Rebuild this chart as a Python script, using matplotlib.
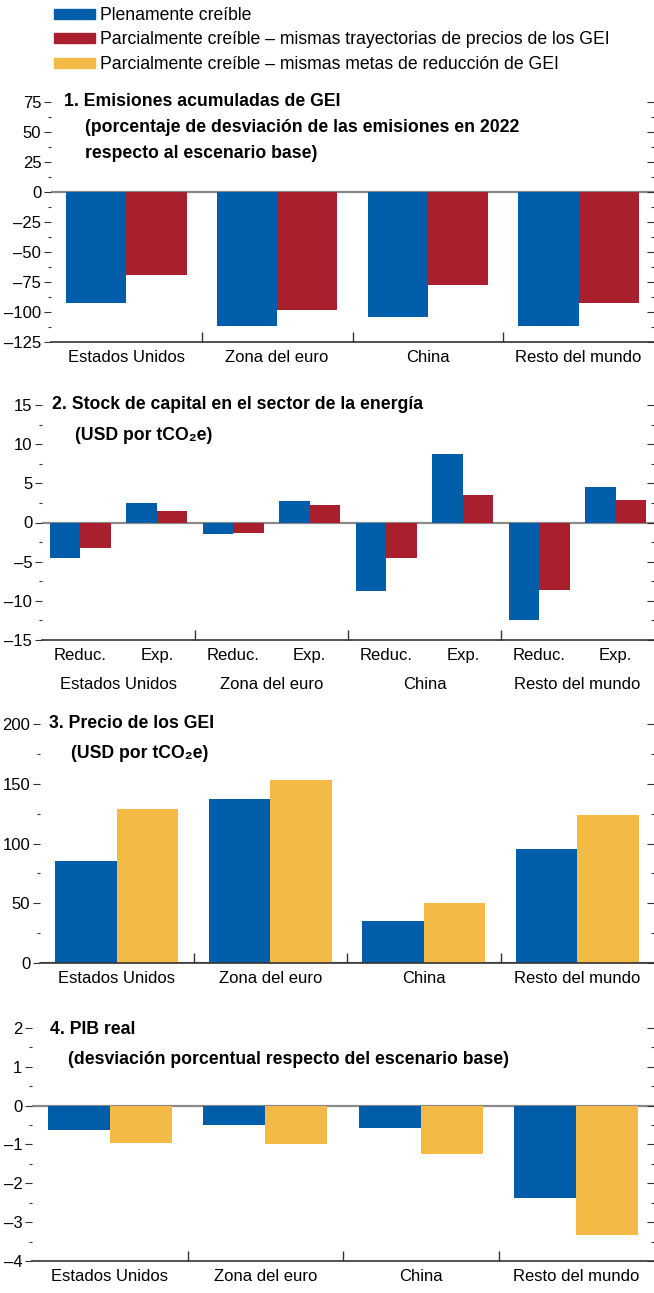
import numpy as np
import matplotlib.pyplot as plt
from matplotlib.patches import Patch
from matplotlib.ticker import MultipleLocator, FixedLocator, NullFormatter, FuncFormatter

plt.rcParams['font.family'] = ['Liberation Sans', 'DejaVu Sans']
plt.rcParams['font.size'] = 12

BLUE = '#005DAA'
RED = '#AA1F2E'
YELLOW = '#F3BA45'
FS = 12
FS_T = 12.7

series_names = ['Plenamente creíble',
                'Parcialmente creíble – mismas trayectorias de precios de los GEI',
                'Parcialmente creíble – mismas metas de reducción de GEI']
countries = ['Estados Unidos', 'Zona del euro', 'China', 'Resto del mundo']
sub_labels = ['Reduc.', 'Exp.']

# panel 1: cumulative emissions
emis_full = [-92.3, -111.6, -104.0, -111.6]
emis_price = [-68.8, -98.2, -77.2, -92.3]
# panel 2: capital stock (Reduc., Exp. per country)
cap_full = [-4.5, 2.5, -1.5, 2.7, -8.7, 8.8, -12.4, 4.5]
cap_price = [-3.2, 1.5, -1.4, 2.2, -4.5, 3.5, -8.6, 2.9]
# panel 3: GHG price
price_full = [85.0, 137.1, 35.5, 95.1]
price_target = [128.7, 153.0, 50.6, 123.6]
# panel 4: real GDP
gdp_full = [-0.63, -0.51, -0.58, -2.39]
gdp_target = [-0.96, -0.99, -1.24, -3.34]

H = 1293.0
W = 654.0
fig = plt.figure(figsize=(6.54, 12.93), dpi=100)

dash_fmt = FuncFormatter(lambda v, p: ('%g' % v).replace('-', '–'))


def make_ax(left_px, top_px, bottom_px):
    return fig.add_axes([left_px / W, 1 - bottom_px / H, 1 - left_px / W, (bottom_px - top_px) / H])


def style(ax, ylim, major, ngroups, sub=1):
    ax.set_ylim(*ylim)
    ax.set_xlim(-0.5, ngroups * sub - 0.5)
    for s in ['left', 'right', 'top']:
        ax.spines[s].set_visible(False)
    ax.spines['bottom'].set_color('#333333')
    ax.spines['bottom'].set_linewidth(1.2)
    ax.axhline(0, color='#8a8a8a', lw=1.6, zorder=1)
    ax.yaxis.set_major_locator(MultipleLocator(major))
    ax.yaxis.set_minor_locator(MultipleLocator(major / 2))
    ax.yaxis.set_major_formatter(dash_fmt)
    ax.tick_params(axis='y', which='major', direction='out', length=5, width=0.8, pad=2,
                   color='#333333', labelsize=FS)
    ax.tick_params(axis='y', which='minor', direction='out', length=2, width=0.8, color='#333333')
    # group dividers
    div = [(g + 1) * sub - 0.5 for g in range(ngroups - 1)]
    ax.xaxis.set_major_locator(FixedLocator(div))
    ax.xaxis.set_major_formatter(NullFormatter())
    ax.tick_params(axis='x', which='major', direction='in', length=7, width=1, color='#333333')
    # right-hand ticks
    ax2 = ax.twinx()
    ax2.set_ylim(*ylim)
    for s in ['left', 'right', 'top', 'bottom']:
        ax2.spines[s].set_visible(False)
    ax2.yaxis.set_major_locator(MultipleLocator(major))
    ax2.yaxis.set_minor_locator(MultipleLocator(major / 2))
    ax2.tick_params(axis='y', which='major', direction='in', length=5, width=0.8, labelright=False, color='#333333')
    ax2.tick_params(axis='y', which='minor', direction='in', length=2, width=0.8, color='#333333')


def group_labels(ax, labels, pad=3):
    x = np.arange(len(labels))
    ax.xaxis.set_minor_locator(FixedLocator(x))
    ax.set_xticklabels(labels, minor=True)
    ax.tick_params(axis='x', which='minor', length=0, pad=pad, labelsize=FS)


def title(x_px, y_px, lines, indent_px, step_px):
    fig.text(x_px / W, 1 - y_px / H, lines[0], fontweight='bold', va='center', ha='left', fontsize=FS_T)
    for k, ln in enumerate(lines[1:]):
        fig.text((x_px + indent_px) / W, 1 - (y_px + step_px * (k + 1)) / H, ln,
                 fontweight='bold', va='center', ha='left', fontsize=FS_T)


w = 0.4

# Panel 1
ax = make_ax(51, 102, 342)
x = np.arange(len(countries))
ax.bar(x - w / 2, emis_full, w, color=BLUE, zorder=2)
ax.bar(x + w / 2, emis_price, w, color=RED, zorder=2)
style(ax, (-125, 75), 25, 4)
group_labels(ax, countries, pad=6)
title(64, 102, ['1. Emisiones acumuladas de GEI',
                '(porcentaje de desviación de las emisiones en 2022',
                'respecto al escenario base)'], 21, 26)

# Panel 2
ax = make_ax(42, 405, 640)
x = np.arange(len(cap_full))
ax.bar(x - w / 2, cap_full, w, color=BLUE, zorder=2)
ax.bar(x + w / 2, cap_price, w, color=RED, zorder=2)
style(ax, (-15, 15), 5, 4, sub=2)
group_labels(ax, sub_labels * len(countries), pad=6)
for i, c in enumerate(countries):
    ax.text(2 * i + 0.5, -0.19, c, transform=ax.get_xaxis_transform(), ha='center', va='center', fontsize=FS)
title(52, 405, ['2. Stock de capital en el sector de la energía', '(USD por tCO₂e)'], 23, 31)

# Panel 3
ax = make_ax(40, 724, 963)
x = np.arange(len(countries))
ax.bar(x - w / 2, price_full, w, color=BLUE, zorder=2)
ax.bar(x + w / 2, price_target, w, color=YELLOW, zorder=2)
style(ax, (0, 200), 50, 4)
group_labels(ax, countries, pad=6)
title(49, 724, ['3. Precio de los GEI', '(USD por tCO₂e)'], 22, 29)

# Panel 4
ax = make_ax(32, 1028, 1261)
ax.bar(x - w / 2, gdp_full, w, color=BLUE, zorder=2)
ax.bar(x + w / 2, gdp_target, w, color=YELLOW, zorder=2)
style(ax, (-4, 2), 1, 4)
group_labels(ax, countries, pad=6)
title(50, 1030, ['4. PIB real', '(desviación porcentual respecto del escenario base)'], 18, 30)

# Legend
handles = [Patch(color=c) for c in [BLUE, RED, YELLOW]]
fig.legend(handles, series_names, loc='upper left', bbox_to_anchor=(54 / W, 1 - 7 / H),
           frameon=False, handlelength=2.3, handleheight=0.5, handletextpad=0.3,
           labelspacing=0.42, borderaxespad=0, borderpad=0, fontsize=FS_T)

fig.savefig('out.png', dpi=100)
